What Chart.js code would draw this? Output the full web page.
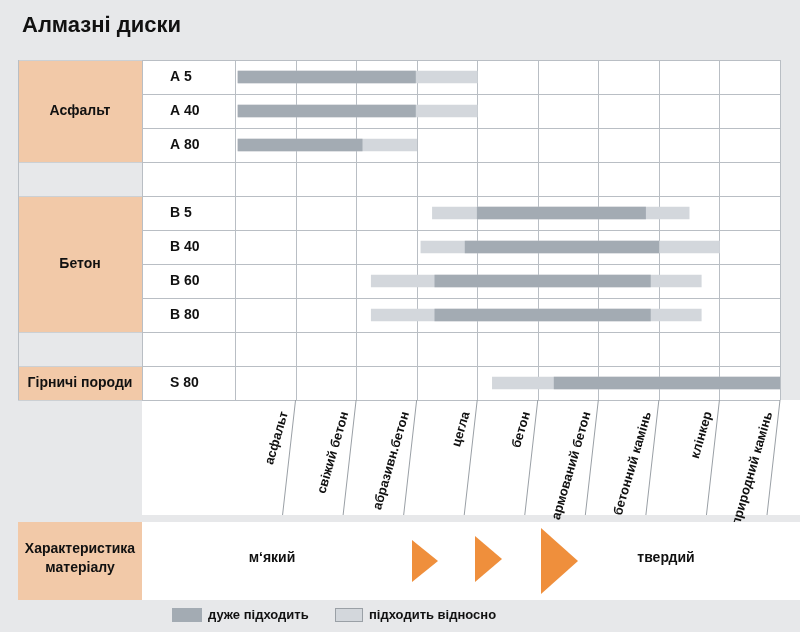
<!DOCTYPE html>
<html><head><meta charset="utf-8">
<script src="https://cdn.jsdelivr.net/npm/chart.js@4/dist/chart.umd.min.js"></script>
<style>body{margin:0;background:#e7e8ea}canvas{display:block}</style>
</head><body>
<canvas id="c" width="800" height="632"></canvas>
<script>
const rowLabels = ['A 5','A 40','A 80','','B 5','B 40','B 60','B 80','','S 80'];
const goodRanges = [[0.05,2.98],[0.05,2.98],[0.05,2.1],null,[4.0,6.78],[3.8,7.0],[3.3,6.86],[3.3,6.86],null,[5.27,9]];
const okRanges = [[0.05,4.0],[0.05,4.0],[0.05,3.0],null,[3.26,7.5],[3.07,8.0],[2.25,7.7],[2.25,7.7],null,[4.25,9]];
const materials = ['асфальт','свіжий бетон','абразивн.бетон','цегла','бетон','армований бетон','бетонний камінь','клінкер','природний камінь'];
const groups = [['Асфальт',0,2],['Бетон',4,7],['Гірничі породи',9,9]];

const F = '"Liberation Sans", Arial, sans-serif';

const decor = {
  id:'decor',
  beforeDraw(ch){
    const c=ch.ctx, x=ch.scales.x;
    const top=ch.chartArea.top, bot=ch.chartArea.bottom, L=18, M=142, R=x.getPixelForValue(9);
    const rh=(bot-top)/rowLabels.length;
    c.save();
    c.fillStyle='#e7e8ea'; c.fillRect(0,0,800,632);
    c.fillStyle='#fff'; c.fillRect(M,top,R-M,bot-top);
    c.fillRect(M,bot,800-M,115);
    c.fillStyle='#f2c9a8';
    groups.forEach(g=>{c.fillRect(L,top+g[1]*rh,M-L,(g[2]-g[1]+1)*rh);});
    c.strokeStyle='#b9bec4'; c.lineWidth=1;
    for(let i=0;i<=rowLabels.length;i++){
      const yy=Math.round(top+i*rh)+0.5;
      c.beginPath(); c.moveTo(M,yy); c.lineTo(R,yy); c.stroke();
    }
    c.strokeStyle='#ccd0d4';
    [0,3,4,8,9,10].forEach(i=>{const yy=Math.round(top+i*rh)+0.5;c.beginPath();c.moveTo(L,yy);c.lineTo(M,yy);c.stroke();});
    c.strokeStyle='#b9bec4';
    [L,M].forEach(xx=>{c.beginPath();c.moveTo(xx+0.5,top);c.lineTo(xx+0.5,bot);c.stroke();});
    for(let v=0;v<=9;v++){
      const xx=Math.round(x.getPixelForValue(v))+0.5;
      c.beginPath(); c.moveTo(xx,top); c.lineTo(xx,bot); c.stroke();
    }
    c.strokeStyle='#9aa0a6';
    for(let v=1;v<=9;v++){
      const xx=x.getPixelForValue(v);
      c.beginPath(); c.moveTo(xx,bot); c.lineTo(xx-13,bot+115); c.stroke();
    }
    c.fillStyle='#111'; c.font='bold 22px '+F; c.textBaseline='middle';
    c.fillText('Алмазні диски',22,26);
    c.font='bold 14px '+F; c.textAlign='center';
    groups.forEach(g=>c.fillText(g[0],(L+M)/2,top+(g[1]+g[2]+1)/2*rh));
    c.textAlign='left';
    rowLabels.forEach((l,i)=>c.fillText(l,170,top+(i+0.5)*rh));
    c.font='bold 13px '+F; c.textAlign='right';
    materials.forEach((m,i)=>{
      const xx=x.getPixelForValue(i+1);
      c.save(); c.translate(xx-11,bot+12); c.rotate(-Math.PI*0.41); c.fillText(m,0,0); c.restore();
    });
    c.fillStyle='#f2c9a8'; c.fillRect(L,522,M-L,78);
    c.fillStyle='#fff'; c.fillRect(M,522,800-M,78);
    c.fillStyle='#111'; c.font='bold 14px '+F; c.textAlign='center';
    c.fillText('Характеристика',80,549); c.fillText('матеріалу',80,568);
    c.fillText('м‘який',272,558); c.fillText('твердий',666,558);
    c.fillStyle='#ef8f3c';
    [[412,540,26,42],[475,536,27,46],[541,528,37,66]].forEach(t=>{
      c.beginPath(); c.moveTo(t[0],t[1]); c.lineTo(t[0]+t[2],t[1]+t[3]/2); c.lineTo(t[0],t[1]+t[3]); c.closePath(); c.fill();
    });
    c.fillStyle='#a3abb3'; c.fillRect(172,608,30,14);
    c.fillStyle='#d3d7dc'; c.fillRect(335,608,28,14); c.strokeStyle='#9aa0a6'; c.strokeRect(335.5,608.5,27,13);
    c.fillStyle='#111'; c.font='bold 13px '+F; c.textAlign='left';
    c.fillText('дуже підходить',208,615); c.fillText('підходить відносно',369,615);
    c.restore();
  }
};

new Chart(document.getElementById('c'),{
  type:'bar',
  data:{labels:rowLabels,datasets:[
    {label:'дуже підходить',data:goodRanges,backgroundColor:'#a3abb3',barThickness:12,grouped:false},
    {label:'підходить відносно',data:okRanges,backgroundColor:'#d3d7dc',barThickness:12,grouped:false}
  ]},
  options:{indexAxis:'y',responsive:false,devicePixelRatio:1,animation:false,
    layout:{padding:{left:235,right:20,top:60,bottom:232}},
    plugins:{legend:{display:false},tooltip:{enabled:false}},
    scales:{x:{min:0,max:9,display:false},y:{display:false}}},
  plugins:[decor]
});
</script></body></html>
